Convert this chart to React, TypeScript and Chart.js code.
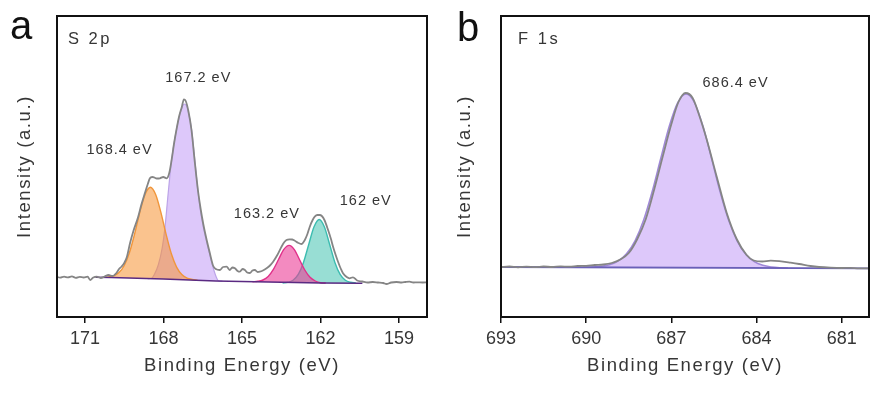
import React, { useEffect, useRef } from 'react';
import { Chart, registerables, LinearScale } from 'chart.js';

// ---------------- Data ----------------
type Pt = [number, number];

// Panel a: S 2p (x = binding energy in eV, y = intensity, a.u.)
const s2pTicks = [159, 162, 165, 168, 171];
const s2pRange: Pt = [157.93, 172.07];
const s2pEnvelope: Pt[] = [
  [172.1, 0.4], [171.95, -0.6], [171.8, 0.3], [171.65, -0.4], [171.5, 0.6], [171.35, -0.8], [171.2, 0.2],
  [171.05, -0.5], [170.9, 0.3], [170.8, -3], [170.7, -0.8], [170.55, 0.4], [170.4, -1], [170.25, 0.5],
  [170.1, 2], [169.95, 1], [169.8, 4], [169.7, 8], [169.6, 10.5], [169.5, 14], [169.4, 20], [169.28, 33.7],
  [169.15, 46], [168.97, 60], [168.85, 72], [168.71, 84], [168.6, 93], [168.52, 98.7], [168.43, 100],
  [168.35, 99.5], [168.26, 98.5], [168.14, 98.7], [168.01, 100], [167.88, 98.7], [167.78, 104], [167.69, 117],
  [167.6, 133], [167.5, 148], [167.4, 161], [167.3, 170], [167.22, 177.7], [167.15, 176], [167.05, 166],
  [166.93, 147], [166.8, 114], [166.68, 86], [166.58, 68], [166.48, 53], [166.35, 37], [166.23, 24],
  [166.1, 11], [166.0, 8], [165.85, 7], [165.72, 10], [165.59, 10.3], [165.47, 7], [165.37, 9.5],
  [165.27, 8.7], [165.17, 6], [165.08, 5.3], [164.98, 8], [164.89, 7], [164.8, 4.5], [164.7, 4],
  [164.6, 6.5], [164.51, 7], [164.4, 5], [164.32, 5.3], [164.2, 6.5], [164.06, 8.7], [163.95, 11],
  [163.81, 15.3], [163.65, 22], [163.49, 30.3], [163.38, 35], [163.3, 37], [163.18, 37.7], [163.08, 37.5],
  [162.98, 36.3], [162.86, 34.3], [162.73, 33], [162.6, 37], [162.5, 43], [162.41, 50.3], [162.3, 57],
  [162.22, 60.3], [162.12, 62], [162.03, 62], [161.95, 61], [161.85, 57], [161.71, 47], [161.6, 38],
  [161.52, 30.3], [161.42, 22], [161.33, 15.3], [161.22, 8], [161.14, 3.7], [161.0, 0], [160.89, -1.3],
  [160.76, -0.3], [160.6, -3.5], [160.4, -4.5], [160.2, -5.5], [160.0, -5], [159.8, -5.5], [159.6, -6],
  [159.48, -7], [159.3, -5.5], [159.1, -5], [158.9, -5.5], [158.75, -5], [158.6, -4.7], [158.45, -5.5],
  [158.3, -5.3], [158.1, -5.5], [157.9, -5.3],
];
const s2pBackground: Pt[] = [
  [170.6, -0.3], [170, -0.5], [168, -2], [166, -4], [164, -5], [162, -6], [160.4, -6.2],
];
const s2pPeak1684: Pt[] = [
  [170.3, -0.4], [170.1, 0.1], [169.9, 1.2], [169.7, 4.4], [169.5, 11.5], [169.3, 24.5], [169.1, 43.5],
  [168.9, 65.2], [168.7, 82.8], [168.5, 89.8], [168.3, 82.5], [168.1, 64.6], [167.9, 42.6], [167.7, 23.2],
  [167.5, 9.9], [167.3, 2.4], [167.1, -1.1], [166.9, -2.5], [166.7, -3.3],
];
const s2pPeak1672: Pt[] = [
  [168.6, -1.6], [168.45, -1.2], [168.35, 2.5], [168.2, 12], [168.05, 29], [167.95, 48], [167.82, 84],
  [167.7, 115], [167.6, 133], [167.5, 148], [167.4, 160], [167.3, 169], [167.2, 173], [167.1, 170],
  [167.05, 165], [166.93, 148], [166.8, 116], [166.68, 85], [166.58, 65], [166.48, 50], [166.35, 35],
  [166.23, 22], [166.1, 9], [166.0, 1], [165.9, -3.8], [165.75, -4.2],
];
const s2pPeak1632: Pt[] = [
  [164.6, -4.7], [164.4, -4.3], [164.2, -3.0], [164.0, 0.5], [163.8, 7.6], [163.6, 17.7], [163.4, 27.6],
  [163.2, 31.6], [163.0, 27.4], [162.8, 17.3], [162.6, 7.0], [162.4, -0.3], [162.2, -4.0], [162.0, -5.7],
  [161.8, -6.0],
];
const s2pPeak162: Pt[] = [
  [163.45, -6], [163.25, -5.3], [163.05, -3.2], [162.85, 2.6], [162.65, 14.6], [162.45, 32.5], [162.25, 50],
  [162.05, 57.5], [161.85, 50], [161.65, 32.5], [161.45, 14.6], [161.25, 2.6], [161.05, -3.2], [160.85, -5.3],
  [160.65, -6],
];
const s2pLabels = ['168.4 eV', '167.2 eV', '163.2 eV', '162 eV'];
const s2pLabelAnchors: Pt[] = [[169.68, 127], [166.67, 199.5], [164.05, 63], [160.27, 76]];

// Panel b: F 1s
const f1sTicks = [681, 684, 687, 690, 693];
const f1sRange: Pt = [680.04, 693];
const f1sEnvelope: Pt[] = [
  [693.0, 0], [692.7, 0.5], [692.4, -0.3], [692.1, 0.4], [691.8, -0.2], [691.5, 0.5], [691.2, 0],
  [690.9, 0.6], [690.6, 0.3], [690.3, 1], [690.0, 1.2], [689.7, 2], [689.4, 2.5], [689.1, 4], [688.8, 7.5],
  [688.5, 14], [688.2, 28], [687.9, 48], [687.6, 78], [687.3, 111], [687.0, 143], [686.75, 165],
  [686.5, 174], [686.25, 169], [686.0, 150], [685.75, 127], [685.4, 90], [685.05, 54], [684.7, 28],
  [684.35, 12], [684.1, 6.5], [683.8, 5.5], [683.5, 6.3], [683.2, 5.8], [682.8, 4.3], [682.5, 3],
  [682.1, 1], [681.8, 0], [681.4, -0.7], [681.0, -1], [680.7, -0.8], [680.4, -1.4], [680.0, -1.3],
];
const f1sBackground: Pt[] = [[693.2, 0], [679.8, -1.3]];
const f1sPeak6864: Pt[] = [
  [690.1, -0.3], [689.78, 0], [689.48, 0.65], [689.18, 2.2], [688.88, 5.8], [688.58, 13.2], [688.28, 26.2],
  [687.98, 46.7], [687.68, 75.0], [687.38, 108.0], [687.08, 140.3], [686.78, 164.1], [686.48, 172.9],
  [686.18, 164.0], [685.88, 140.2], [685.58, 107.9], [685.28, 74.7], [684.98, 46.4], [684.68, 25.9],
  [684.38, 12.7], [684.08, 5.3], [683.78, 1.7], [683.48, 0.05], [683.18, -0.7], [682.9, -1.0],
];
const f1sLabels = ['686.4 eV'];
const f1sLabelAnchors: Pt[] = [[684.74, 184]];

const panelLetters = ['a', 'b'];
const panelTags = ['S 2p', 'F 1s'];
const panelTagAnchors: Pt[] = [[171.65, 238], [692.4, 228]];
const xTitle = 'Binding Energy (eV)';
const yTitle = 'Intensity (a.u.)';

// ---------------- Chart setup ----------------
class SpacedLinearScale extends LinearScale {
  static id = 'spacedLinear';
  drawTitle() {
    const ctx: any = (this as any).ctx;
    const prev = ctx.letterSpacing;
    ctx.letterSpacing = '1.6px';
    // @ts-ignore
    super.drawTitle();
    ctx.letterSpacing = prev || '0px';
  }
}
Chart.register(...registerables, SpacedLinearScale);

const FONT = '"Liberation Sans", Arial, Helvetica, sans-serif';
const TEXT = '#363636';

const toXY = (a: Pt[]) => a.map(([x, y]) => ({ x, y }));

function decorPlugin(letter: string, letterPos: Pt, tag: string, tagAnchor: Pt, labels: string[], anchors: Pt[]) {
  return {
    id: 'panelDecor',
    afterDraw(chart: any) {
      const { ctx, chartArea: ca, scales } = chart;
      const xs = scales.x;
      const ys = scales.y;
      ctx.save();
      ctx.lineWidth = 2;
      ctx.strokeStyle = '#111';
      ctx.strokeRect(ca.left, ca.top, ca.right - ca.left, ca.bottom - ca.top);
      ctx.fillStyle = TEXT;
      ctx.font = `14.5px ${FONT}`;
      ctx.letterSpacing = '1px';
      ctx.textAlign = 'center';
      ctx.textBaseline = 'middle';
      labels.forEach((t, i) => {
        ctx.fillText(t, xs.getPixelForValue(anchors[i][0]), ys.getPixelForValue(anchors[i][1]));
      });
      ctx.font = `16.5px ${FONT}`;
      ctx.letterSpacing = '2.5px';
      ctx.textAlign = 'left';
      ctx.fillText(tag, xs.getPixelForValue(tagAnchor[0]), ys.getPixelForValue(tagAnchor[1]));
      ctx.font = `40px ${FONT}`;
      ctx.letterSpacing = '0px';
      ctx.fillStyle = '#111';
      ctx.textBaseline = 'alphabetic';
      ctx.fillText(letter, letterPos[0], letterPos[1]);
      ctx.restore();
    },
  };
}

function buildConfig(opts: {
  datasets: any[];
  range: Pt;
  ticks: number[];
  yMin: number;
  yMax: number;
  yAxisWidth: number;
  padRight: number;
  plugin: any;
}) {
  return {
    type: 'line',
    data: { datasets: opts.datasets },
    options: {
      animation: false,
      responsive: false,
      events: [],
      layout: { padding: { left: 0, right: opts.padRight, top: 16, bottom: 0 } },
      plugins: { legend: { display: false }, tooltip: { enabled: false } },
      elements: { point: { radius: 0 } },
      scales: {
        x: {
          type: 'spacedLinear',
          min: opts.range[0],
          max: opts.range[1],
          reverse: true,
          afterBuildTicks: (s: any) => {
            s.ticks = opts.ticks.map((v) => ({ value: v }));
          },
          afterFit: (s: any) => {
            s.height = 77;
          },
          ticks: { color: TEXT, font: { family: FONT, size: 18 }, padding: 5, maxRotation: 0, autoSkip: false },
          grid: { display: true, drawOnChartArea: false, drawTicks: true, tickLength: 6, color: '#111', lineWidth: 1.5 },
          border: { display: false },
          title: {
            display: true,
            text: xTitle,
            color: TEXT,
            font: { family: FONT, size: 18.5 },
            padding: { top: 0, bottom: 17 },
          },
        },
        y: {
          type: 'spacedLinear',
          min: opts.yMin,
          max: opts.yMax,
          afterFit: (s: any) => {
            s.width = opts.yAxisWidth;
          },
          ticks: { display: false },
          grid: { display: false },
          border: { display: false },
          title: {
            display: true,
            text: yTitle,
            color: TEXT,
            font: { family: FONT, size: 18.5 },
            padding: { top: 14, bottom: 0 },
          },
        },
      },
    },
    plugins: [opts.plugin],
  };
}

const smooth = { cubicInterpolationMode: 'monotone' as const, pointRadius: 0 };

export default function App() {
  const refA = useRef<HTMLCanvasElement>(null);
  const refB = useRef<HTMLCanvasElement>(null);

  useEffect(() => {
    const dsA = [
      { data: toXY(s2pEnvelope), borderColor: '#858585', borderWidth: 1.8, fill: false, ...smooth },
      { data: toXY(s2pBackground), borderColor: '#5a2a82', borderWidth: 1.6, fill: false, tension: 0, pointRadius: 0 },
      { data: toXY(s2pPeak1632), borderColor: '#e0308a', borderWidth: 1.4, backgroundColor: 'rgba(235,60,150,0.6)', fill: 1, ...smooth },
      { data: toXY(s2pPeak162), borderColor: '#3cbcb0', borderWidth: 1.4, backgroundColor: '#98ded4', fill: 1, ...smooth },
      { data: toXY(s2pPeak1684), borderColor: '#f0963c', borderWidth: 1.4, backgroundColor: 'rgba(245,145,50,0.55)', fill: 1, ...smooth },
      { data: toXY(s2pPeak1672), borderColor: '#bca4e8', borderWidth: 1.2, backgroundColor: '#ddc8fa', fill: 1, ...smooth },
    ];
    const dsB = [
      { data: toXY(f1sEnvelope), borderColor: '#858585', borderWidth: 1.8, fill: false, ...smooth },
      { data: toXY(f1sBackground), borderColor: '#6a60b8', borderWidth: 1.8, fill: false, tension: 0, pointRadius: 0 },
      { data: toXY(f1sPeak6864), borderColor: '#9f88d8', borderWidth: 1.5, backgroundColor: '#ddc8fa', fill: 1, ...smooth },
    ];
    const chartA = new Chart(
      refA.current as HTMLCanvasElement,
      buildConfig({
        datasets: dsA,
        range: s2pRange,
        ticks: s2pTicks,
        yMin: -40,
        yMax: 261,
        yAxisWidth: 57,
        padRight: 13,
        plugin: decorPlugin(panelLetters[0], [10, 39], panelTags[0], panelTagAnchors[0], s2pLabels, s2pLabelAnchors),
      }) as any
    );
    const chartB = new Chart(
      refB.current as HTMLCanvasElement,
      buildConfig({
        datasets: dsB,
        range: f1sRange,
        ticks: f1sTicks,
        yMin: -50,
        yMax: 251,
        yAxisWidth: 61,
        padRight: 4,
        plugin: decorPlugin(panelLetters[1], [17, 41], panelTags[1], panelTagAnchors[1], f1sLabels, f1sLabelAnchors),
      }) as any
    );
    return () => {
      chartA.destroy();
      chartB.destroy();
    };
  }, []);

  return (
    <div style={{ position: 'absolute', left: 0, top: 0, width: 873, height: 394, background: '#fff' }}>
      <canvas ref={refA} width={440} height={394} style={{ position: 'absolute', left: 0, top: 0 }} />
      <canvas ref={refB} width={433} height={394} style={{ position: 'absolute', left: 440, top: 0 }} />
    </div>
  );
}
